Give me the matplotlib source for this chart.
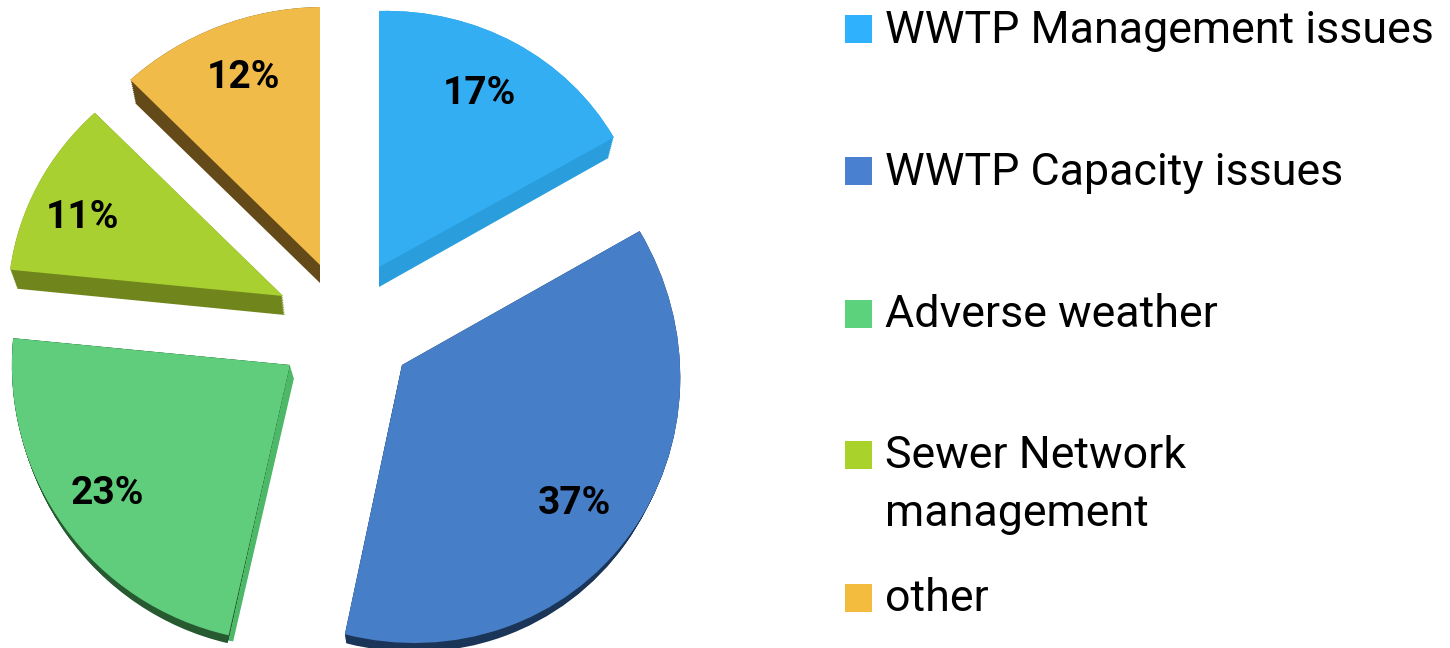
import numpy as np
import matplotlib
matplotlib.use("Agg")
import matplotlib.pyplot as plt
from matplotlib.patches import Rectangle
from matplotlib.transforms import Affine2D

categories = ["WWTP Management issues", "WWTP Capacity issues", "Adverse weather",
              "Sewer Network\nmanagement", "other"]
values = [17, 37, 23, 11, 12]

top_colors = ["#33aef3", "#467ec8", "#5fcd7c", "#a8d030", "#f0bb48"]
rim_colors = ["#2a9edc", "#1b3558", "#275a30", "#70861c", "#644a18"]
side_colors = ["none", "none", "#4db868", "none", "none"]
legend_colors = ["#2fb1fd", "#4a80d0", "#5dd27c", "#a9d32a", "#f4bc3f"]

# per-slice placement (pixels): rx, shear_x, shear_y, ry, apex_x, apex_y
top_geom = [(268, 0, 7, 256, 379, 267),
            (278, -12.4, 0, 278, 402, 365),
            (278, -8, 8, 277, 290, 365),
            (275, 0, 6, 257, 283, 296),
            (277, 0, 4.3, 258, 320, 265)]
rim_geom = [(262, 0, 0, 268, 379, 287),
            (273, -12.4, 0, 279, 402, 373),
            (274, -8, 8, 281, 288, 369),
            (270, 0, 6, 257, 285, 315),
            (270, 0, 12, 258, 320, 283)]
side_geom = [(268, 0, 7, 256, 379, 267),
             (278, -12.4, 0, 278, 402, 365),
             (276, -8, 8, 270, 294, 378),
             (275, 0, 6, 257, 283, 296),
             (277, 0, 4.3, 258, 320, 265)]

label_xy = [(479, 93), (574, 504), (107, 493), (82, 217), (243, 77)]
legend_box_y = [15, 157, 300, 441, 584]
legend_text_y = [31, 173, 315, 485, 599]

FONT = "Roboto"
SWEEP_STEPS = 12

fig = plt.figure(figsize=(14.5, 6.48), dpi=100, facecolor="white")
ax = fig.add_axes([0, 0, 1, 1])
ax.set_axis_off()


def layer(colors, geoms):
    wedges, _ = ax.pie(values, colors=colors, startangle=90, counterclock=False,
                       wedgeprops={"linewidth": 0})
    for w, (rx, kx, ky, ry, px, py) in zip(wedges, geoms):
        m = np.array([[rx, kx, px], [-ky, -ry, py], [0, 0, 1.0]])
        w.set_transform(Affine2D(m) + ax.transData)
        w.set_clip_on(True)


def sweep(colors, start, end):
    for t in np.linspace(1, 0, SWEEP_STEPS):
        geoms = [tuple(a + t * (b - a) for a, b in zip(g0, g1))
                 for g0, g1 in zip(start, end)]
        layer(colors, geoms)


sweep(side_colors, top_geom, side_geom)
sweep(rim_colors, top_geom, rim_geom)
layer(top_colors, top_geom)

ax.set_aspect("auto")
ax.set_xlim(0, 1450)
ax.set_ylim(648, 0)

for v, (x, y) in zip(values, label_xy):
    ax.text(x, y, f"{v}%", ha="center", va="center", fontsize=28,
            fontweight="bold", family=FONT, color="black")

for c, lab, by, ty in zip(legend_colors, categories, legend_box_y, legend_text_y):
    ax.add_patch(Rectangle((845, by), 27, 28, facecolor=c, edgecolor="none"))
    ax.text(885, ty, lab, ha="left", va="center", fontsize=32.2, family=FONT,
            color="black", linespacing=1.5)

fig.savefig("out.png", dpi=100)
